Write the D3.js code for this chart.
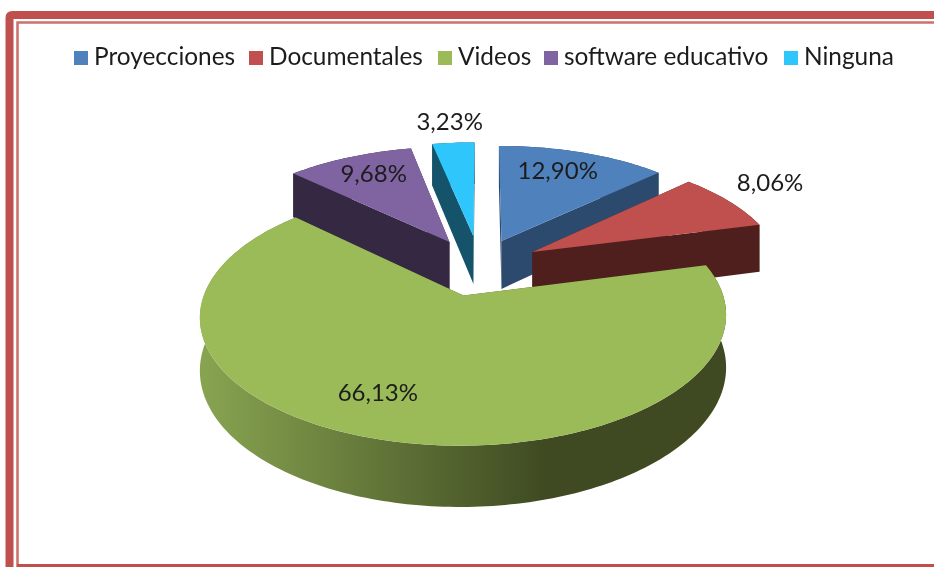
<!DOCTYPE html>
<html>
<head>
<meta charset="utf-8">
<script src="https://cdn.jsdelivr.net/npm/d3@7"></script>
<style>
  html, body { margin: 0; padding: 0; background: #fff; }
  svg { display: block; filter: blur(0.4px); }
  text { font-family: Lato, "Open Sans", sans-serif; fill: #1c1c1c; }
</style>
</head>
<body>
<svg id="chart" width="934" height="567"></svg>
<script>
const categories = ["Proyecciones", "Documentales", "Videos", "software educativo", "Ninguna"];
const shares = [12.90, 8.06, 66.13, 9.68, 3.23];
const topColors = ["#4f81bd", "#c0504d", "#9bbb59", "#8064a2", "#2fc6fb"];
const wallColors = ["#2c4a6e", "#4f1f1d", "#414d24", "#352842", "#15536a"];
const legendX = [74, 249, 438, 544, 784];

// how far each slice is pulled out and in which direction (degrees off its middle)
const explode = [0.165, 0.21, 0.33, 0.19, 0.19];
const explodeNudge = [6, 17, -2, -16, -5];
// where each label sits
const labelRadius = [0.915, 1.48, 1.07, 0.956, 1.45];
const labelNudge = [-1, 0, 5, -2, -0.5];

const svg = d3.select("#chart");
const border = "#c0504d";

// page frame, open on the right
svg.append("path")
  .attr("d", "M9.5,567V18Q9.5,15 12.5,15H934")
  .attr("fill", "none").attr("stroke", border).attr("stroke-width", 8);
svg.append("path")
  .attr("d", "M17.5,567V22.5H934")
  .attr("fill", "none").attr("stroke", "#cd6f6c").attr("stroke-width", 2.5);
svg.append("path")
  .attr("d", "M17,565.5H934")
  .attr("fill", "none").attr("stroke", border).attr("stroke-width", 3);

// perspective of the pie plane
const originX = 482, originY = 257, scaleX = 247, scaleY = 114, persp = 0.152, depth = 49;

function project(x, y, z = 0) {
  const w = 1 + persp * y;
  return [originX + scaleX * x / w, originY - scaleY * y / w + depth * z / w];
}

const arcs = d3.pie().sort(null).value((d) => d)(shares);

const defs = svg.append("defs");
const sideGrad = defs.append("linearGradient")
  .attr("id", "greenSide")
  .attr("gradientUnits", "userSpaceOnUse")
  .attr("x1", 205).attr("x2", 545).attr("y1", 0).attr("y2", 0);
sideGrad.append("stop").attr("offset", 0).attr("stop-color", "#87a350");
sideGrad.append("stop").attr("offset", 1).attr("stop-color", "#3f4a22");

const line = d3.line();

function slicePoints(d, i, z) {
  const mid = (d.startAngle + d.endAngle) / 2 + explodeNudge[i] * Math.PI / 180;
  const ox = explode[i] * Math.sin(mid);
  const oy = explode[i] * Math.cos(mid);
  const steps = Math.ceil((d.endAngle - d.startAngle) / 0.02);
  const outer = d3.range(steps + 1).map((k) => {
    const a = d.startAngle + (d.endAngle - d.startAngle) * k / steps;
    return project(ox + Math.sin(a), oy + Math.cos(a), z);
  });
  return { apex: project(ox, oy, z), outer };
}

// back slices first, the big green one sits in front of everything
const drawOrder = [0, 1, 3, 4, 2];

drawOrder.forEach((i) => {
  const d = arcs[i];
  const top = slicePoints(d, i, 0);
  const bottom = slicePoints(d, i, 1);
  const g = svg.append("g");
  const wallFill = i === 2 ? "url(#greenSide)" : wallColors[i];

  // radial walls
  [0, top.outer.length - 1].forEach((n) => {
    g.append("path")
      .attr("d", line([top.apex, top.outer[n], bottom.outer[n], bottom.apex]) + "Z")
      .attr("fill", wallFill);
  });
  // curved outer wall
  g.append("path")
    .attr("d", line(top.outer.concat(bottom.outer.slice().reverse())) + "Z")
    .attr("fill", wallFill);
  // top face
  g.append("path")
    .attr("d", line([top.apex, ...top.outer]) + "Z")
    .attr("fill", topColors[i]);
});

// data labels
arcs.forEach((d, i) => {
  const mid = (d.startAngle + d.endAngle) / 2 + labelNudge[i] * Math.PI / 180;
  const p = project(labelRadius[i] * Math.sin(mid), labelRadius[i] * Math.cos(mid));
  svg.append("text")
    .attr("x", p[0]).attr("y", p[1] - 1.5)
    .attr("text-anchor", "middle")
    .attr("dominant-baseline", "central")
    .attr("font-size", 24)
    .text(d3.format(".2f")(shares[i]).replace(".", ",") + "%");
});

// legend
categories.forEach((name, i) => {
  svg.append("rect")
    .attr("x", legendX[i]).attr("y", 51)
    .attr("width", 14).attr("height", 14)
    .attr("fill", topColors[i]);
  svg.append("text")
    .attr("x", legendX[i] + 20).attr("y", 65)
    .attr("font-size", 24.4)
    .text(name);
});
</script>
</body>
</html>
